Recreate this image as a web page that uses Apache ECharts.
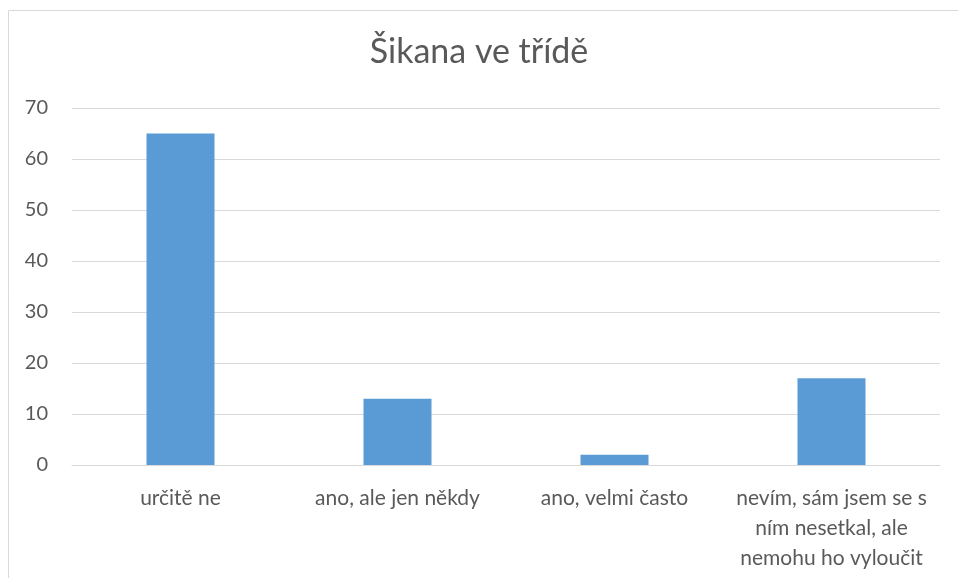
<!DOCTYPE html>
<html>
<head>
<meta charset="utf-8">
<script src="https://cdn.jsdelivr.net/npm/echarts@6/dist/echarts.min.js"></script>
<style>
  html, body { margin: 0; padding: 0; background: #fff; }
  #main { width: 958px; height: 578px; }
</style>
</head>
<body>
<div id="main"></div>
<script>
var categories = ['určitě ne', 'ano, ale jen někdy', 'ano, velmi často', 'nevím, sám jsem se s ním nesetkal, ale nemohu ho vyloučit'];
var values = [65, 13, 2, 17];
var yTicks = { min: 0, max: 70, step: 10 };

var font = '"Liberation Sans Narrow", Lato, "Noto Sans", sans-serif';
var myChart = echarts.init(document.getElementById('main'));

var option = {
  backgroundColor: '#fff',
  textStyle: { fontFamily: font },
  graphic: [{
    type: 'rect',
    shape: { x: 8.5, y: 10.5, width: 1000, height: 1000 },
    style: { fill: 'none', stroke: '#d9d9d9', lineWidth: 1 },
    silent: true
  }],
  title: {
    text: 'Šikana ve třídě',
    left: 'center',
    top: 30,
    textStyle: { fontFamily: font, fontSize: 34, fontWeight: 'normal', color: '#595959' }
  },
  grid: { left: 72, right: 18, top: 108, bottom: 113, containLabel: false },
  xAxis: {
    type: 'category',
    data: categories,
    axisLine: { lineStyle: { color: '#d9d9d9', width: 1 } },
    axisTick: { show: false },
    axisLabel: {
      color: '#595959',
      fontSize: 21,
      fontFamily: font,
      margin: 18,
      lineHeight: 30,
      width: 222,
      overflow: 'break',
      interval: 0
    }
  },
  yAxis: {
    type: 'value',
    min: yTicks.min,
    max: yTicks.max,
    interval: yTicks.step,
    axisLine: { show: false },
    axisTick: { show: false },
    splitLine: { lineStyle: { color: '#d9d9d9', width: 1 } },
    axisLabel: { color: '#595959', fontSize: 20, fontFamily: font, margin: 24 }
  },
  series: [{
    type: 'bar',
    data: values,
    barWidth: 68,
    itemStyle: { color: '#5b9bd5' },
    emphasis: { disabled: true }
  }]
};
myChart.setOption(option);
</script>
</body>
</html>
